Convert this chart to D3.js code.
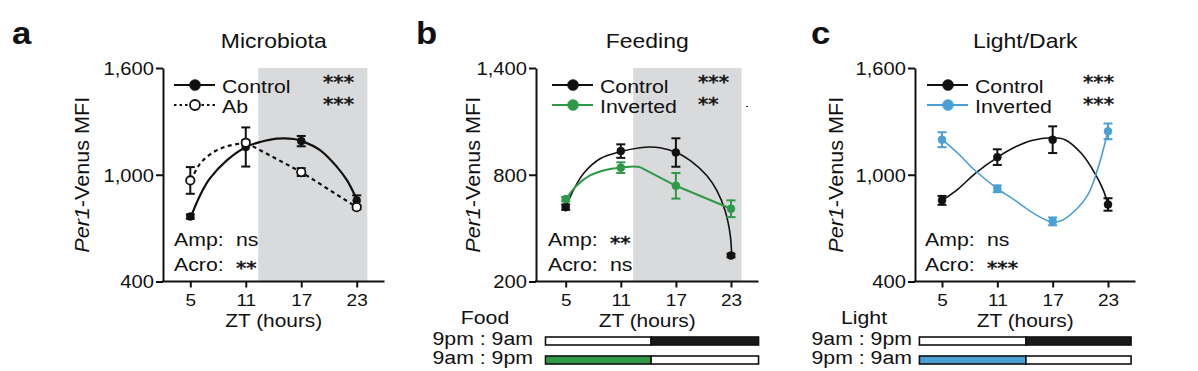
<!DOCTYPE html>
<html><head><meta charset="utf-8">
<script src="https://cdn.jsdelivr.net/npm/d3@7"></script>
<style>html,body{margin:0;padding:0;background:#fff}svg{display:block}</style>
</head><body><svg id="chart" width="1198" height="371"></svg>
<script>
// ---------------- data ----------------
const zt = [5, 11, 17, 23];
const xTickLabels = ["5", "11", "17", "23"];
const yTicksA = [400, 1000, 1600];
const yTicksB = [200, 800, 1400];
const yTicksC = [400, 1000, 1600];
const yDomainA = [400, 1600];
const yDomainB = [200, 1400];
const yDomainC = [400, 1600];
const titles = ["Microbiota", "Feeding", "Light/Dark"];
const panelLetters = ["a", "b", "c"];
const seriesA = ["Control", "Ab"];
const seriesB = ["Control", "Inverted"];
const seriesC = ["Control", "Inverted"];

// panel a: Microbiota
const ctrlA = [765, 1156, 1189, 855];
const ctrlAErr = [12, 110, 29, 29];
const abA = [968, 1180, 1015, 818];
const abAErr = [75, 14, 22, 12];
const fitCtrlA_zt = [5.08, 6.05, 7.1, 8.95, 11.04, 12.56, 14.37, 16.2, 17.08, 19.07, 20.88, 21.96, 23.05];
const fitCtrlA = [766, 884, 978, 1081, 1156, 1184, 1203, 1201, 1189, 1137, 1043, 968, 856];
const fitAbA_zt = [5.08, 6.05, 7.5, 8.95, 11.04];
const fitAbA = [968, 1062, 1127, 1160, 1180];

// panel b: Feeding
const ctrlB = [618, 933, 925, 346];
const ctrlBErr = [15, 38, 80, 10];
const invB = [663, 840, 738, 609];
const invBErr = [12, 30, 72, 47];
const fitCtrlB_zt = [5.03, 5.83, 6.92, 8.74, 11.03, 13.1, 14.18, 15.27, 17.01, 18.54, 20.36, 21.45, 22.35, 22.9, 23.08];
const fitCtrlB = [620, 712, 806, 890, 931, 952, 956, 952, 927, 881, 796, 712, 599, 468, 346];
const fitInvB_zt = [5.03, 6.2, 7.65, 9.47, 11.03, 12.37, 13.1];
const fitInvB = [663, 740, 796, 828, 840, 847, 843];

// panel c: Light/Dark
const ctrlC = [856, 1099, 1197, 833];
const ctrlCErr = [25, 44, 75, 35];
const invC = [1197, 921, 738, 1244];
const invCErr = [42, 19, 22, 44];
const fitCtrlC_zt = [5.03, 6.77, 8.58, 11.04, 12.92, 14.73, 16.9, 18.34, 20.15, 21.6, 22.5, 22.97];
const fitCtrlC = [856, 921, 1006, 1099, 1156, 1193, 1208, 1197, 1118, 1006, 912, 837];
const fitInvC_zt = [5.03, 6.77, 8.58, 11.04, 12.92, 14.73, 16.9, 17.98, 19.43, 20.87, 21.95, 22.97];
const fitInvC = [1197, 1118, 1024, 921, 856, 790, 734, 743, 799, 893, 1043, 1240];

// annotations
const starsRow1 = ["***", "***", "***"];
const starsRow2 = ["***", "**", "***"];
const ampLabels = ["ns", "**", "ns"];
const acroLabels = ["**", "ns", "***"];
const darkPhase = [12.35, 24.15];            // shaded ZT range (a, b)
const foodTitle = "Food", lightTitle = "Light";
const foodRows = ["9pm : 9am", "9am : 9pm"];
const lightRows = ["9am : 9pm", "9pm : 9am"];
const schedB = [2.8, 14.3, 26];              // bar start, switch, end (ZT)
const schedC = [2.55, 14.1, 25.5];

// ---------------- style / layout ----------------
const FONT = "'Liberation Sans', Arial, Helvetica, sans-serif";
const STARFONT = "'DejaVu Sans', sans-serif";
const SX = 1.12;
const BLACK = "#111111", GREEN = "#2e9a48", BLUE = "#4a9fd5", SHADE = "#d9dadc";
const yTop = 68, yBot = 281.5;
const layouts = [
  {axisX: 163, x5: 190.3, x23: 356.7, xEnd: 384.5, yTitleX: 89, letterX: 12, legendX: 174, starsX: 323, ampX: 174},
  {axisX: 536, x5: 565.7, x23: 731, xEnd: 758.5, yTitleX: 480, letterX: 416, legendX: 552, starsX: 698, ampX: 548},
  {axisX: 915, x5: 942, x23: 1108, xEnd: 1135.5, yTitleX: 843, letterX: 811, legendX: 927, starsX: 1083, ampX: 925}
];

const svg = d3.select("#chart");

function txt(g, str, x, y, size, opts = {}) {
  return g.append("text")
    .attr("transform", `translate(${x},${y}) scale(${opts.sx || SX},1)`)
    .attr("font-family", opts.family || FONT)
    .attr("font-size", size)
    .attr("font-weight", opts.weight || "normal")
    .attr("text-anchor", opts.anchor || "start")
    .attr("fill", opts.fill || BLACK)
    .text(str);
}
function stars(g, str, x, y) {
  return txt(g, str, x, y, 17.5, {family: STARFONT, sx: 1.18})
    .attr("stroke", BLACK).attr("stroke-width", 0.5);
}

const panels = [
  {yDomain: yDomainA, yTicks: yTicksA, series: seriesA,
   groups: [
     {mean: ctrlA, err: ctrlAErr, color: BLACK, filled: true, dashed: false, fitZ: fitCtrlA_zt, fit: fitCtrlA, linearTail: false, width: 2.2},
     {mean: abA, err: abAErr, color: BLACK, filled: false, dashed: true, fitZ: fitAbA_zt, fit: fitAbA, linearTail: true, width: 2.2}
   ], shade: true, sched: null},
  {yDomain: yDomainB, yTicks: yTicksB, series: seriesB,
   groups: [
     {mean: ctrlB, err: ctrlBErr, color: BLACK, filled: true, dashed: false, fitZ: fitCtrlB_zt, fit: fitCtrlB, linearTail: false, width: 1.6},
     {mean: invB, err: invBErr, color: GREEN, filled: true, dashed: false, fitZ: fitInvB_zt, fit: fitInvB, linearTail: true, width: 2}
   ], shade: true, sched: {title: foodTitle, rows: foodRows, s: schedB, color: GREEN}},
  {yDomain: yDomainC, yTicks: yTicksC, series: seriesC,
   groups: [
     {mean: ctrlC, err: ctrlCErr, color: BLACK, filled: true, dashed: false, fitZ: fitCtrlC_zt, fit: fitCtrlC, linearTail: false, width: 1.6},
     {mean: invC, err: invCErr, color: BLUE, filled: true, dashed: false, fitZ: fitInvC_zt, fit: fitInvC, linearTail: false, width: 1.6}
   ], shade: false, sched: {title: lightTitle, rows: lightRows, s: schedC, color: BLUE}}
];

panels.forEach((p, i) => {
  const L = layouts[i];
  const g = svg.append("g");
  const x = d3.scaleLinear().domain([zt[0], zt[3]]).range([L.x5, L.x23]);
  const y = d3.scaleLinear().domain(p.yDomain).range([yBot, yTop]);

  // shaded dark phase
  if (p.shade) {
    g.append("rect")
      .attr("x", x(darkPhase[0])).attr("y", y(p.yDomain[1]))
      .attr("width", x(darkPhase[1]) - x(darkPhase[0]))
      .attr("height", y(p.yDomain[0]) - y(p.yDomain[1]))
      .attr("fill", SHADE);
  }

  // curves
  p.groups.forEach(s => {
    const pts = s.fitZ.map((z, k) => [x(z), y(s.fit[k])]);
    const line = d3.line().curve(d3.curveCatmullRom.alpha(0.5));
    const path = g.append("path").attr("d", line(pts)).attr("fill", "none")
      .attr("stroke", s.color).attr("stroke-width", s.width);
    if (s.dashed) path.attr("stroke-dasharray", "4,3.5");
    if (s.linearTail) {
      const lastZ = s.fitZ[s.fitZ.length - 1];
      const tail = [[x(lastZ), y(s.fit[s.fit.length - 1])]];
      zt.forEach((z, k) => { if (z > lastZ + 0.5) tail.push([x(z), y(s.mean[k])]); });
      const tp = g.append("path").attr("d", d3.line()(tail)).attr("fill", "none")
        .attr("stroke", s.color).attr("stroke-width", s.width);
      if (s.dashed) tp.attr("stroke-dasharray", "4,3.5");
    }
  });

  // error bars and markers
  p.groups.forEach(s => {
    const eg = g.append("g").attr("stroke", s.color).attr("stroke-width", 2);
    zt.forEach((z, k) => {
      const cx = x(z), y1 = y(s.mean[k] + s.err[k]), y2 = y(s.mean[k] - s.err[k]);
      eg.append("line").attr("x1", cx).attr("x2", cx).attr("y1", y1).attr("y2", y2);
      eg.append("line").attr("x1", cx - 4.5).attr("x2", cx + 4.5).attr("y1", y1).attr("y2", y1);
      eg.append("line").attr("x1", cx - 4.5).attr("x2", cx + 4.5).attr("y1", y2).attr("y2", y2);
    });
    g.selectAll(null).data(zt).enter().append("circle")
      .attr("cx", d => x(d)).attr("cy", (d, k) => y(s.mean[k]))
      .attr("r", s.filled ? 4 : 4.2)
      .attr("fill", s.filled ? s.color : "#fff")
      .attr("stroke", s.color).attr("stroke-width", s.filled ? 0.5 : 1.8);
  });

  // y axis
  const yAxis = d3.axisLeft(y).tickValues(p.yTicks).tickSize(7).tickSizeOuter(0)
    .tickFormat(d3.format(","));
  const ya = g.append("g").attr("transform", `translate(${L.axisX},0)`).call(yAxis);
  ya.select(".domain").attr("stroke", BLACK).attr("stroke-width", 2);
  ya.selectAll(".tick line").attr("stroke", BLACK).attr("stroke-width", 2);
  ya.selectAll(".tick text")
    .attr("font-family", FONT).attr("font-size", 18).attr("fill", BLACK)
    .attr("x", -9 / SX).attr("dy", "0.36em")
    .attr("transform", `scale(${SX},1)`);
  ya.attr("font-family", null).attr("font-size", null);

  // x axis
  const xAxis = d3.axisBottom(x).tickValues(zt).tickSize(6).tickSizeOuter(0)
    .tickFormat((d, k) => xTickLabels[k]);
  const xa = g.append("g").attr("transform", `translate(0,${yBot})`).call(xAxis);
  xa.select(".domain").remove();
  xa.append("line").attr("x1", L.axisX - 1).attr("x2", L.xEnd).attr("y1", 0).attr("y2", 0)
    .attr("stroke", BLACK).attr("stroke-width", 2);
  xa.selectAll(".tick line").attr("stroke", BLACK).attr("stroke-width", 2);
  xa.selectAll(".tick text")
    .attr("font-family", FONT).attr("font-size", 17).attr("fill", BLACK)
    .attr("y", 25).attr("dy", 0)
    .attr("transform", `scale(${SX},1)`);
  xa.attr("font-family", null).attr("font-size", null);

  txt(g, "ZT (hours)", (L.axisX + L.xEnd) / 2, 326.5, 18, {anchor: "middle", sx: 1.16});

  // y title
  const yt = g.append("text")
    .attr("transform", `translate(${L.yTitleX},${(yTop + yBot) / 2}) rotate(-90) scale(1.08,1)`)
    .attr("font-family", FONT).attr("font-size", 20).attr("text-anchor", "middle").attr("fill", BLACK);
  yt.append("tspan").attr("font-style", "italic").text("Per1");
  yt.append("tspan").text("-Venus MFI");

  // title and letter
  txt(g, titles[i], (L.axisX + L.xEnd) / 2, 47.5, 20.5, {anchor: "middle"});
  txt(g, panelLetters[i], L.letterX, 44, 31, {weight: "bold"});

  // legend
  p.groups.forEach((s, k) => {
    const ly = 85 + k * 20;
    const ln = g.append("line").attr("x1", L.legendX).attr("x2", L.legendX + 41)
      .attr("y1", ly).attr("y2", ly).attr("stroke", s.color).attr("stroke-width", 2);
    if (s.dashed) ln.attr("stroke-dasharray", "2.5,3");
    g.append("circle").attr("cx", L.legendX + 21).attr("cy", ly).attr("r", s.filled ? 5.5 : 5)
      .attr("fill", s.filled ? s.color : "#fff").attr("stroke", s.color).attr("stroke-width", s.filled ? 0.5 : 1.8);
    txt(g, p.series[k], L.legendX + 48, ly + 7.5, 19);
  });

  // significance stars
  stars(g, starsRow1[i], L.starsX, 88);
  stars(g, starsRow2[i], L.starsX, 109.5);

  // amp / acro
  txt(g, "Amp:", L.ampX, 245.5, 19);
  txt(g, "Acro:", L.ampX, 270.5, 19);
  if (ampLabels[i] === "ns") txt(g, ampLabels[i], L.ampX + 62, 245.5, 19);
  else stars(g, ampLabels[i], L.ampX + 62, 249);
  if (acroLabels[i] === "ns") txt(g, acroLabels[i], L.ampX + 62, 270.5, 19);
  else stars(g, acroLabels[i], L.ampX + 62, 274);

  // schedule bars
  if (p.sched) {
    const sc = p.sched;
    const labelRight = L.axisX - 3;
    txt(g, sc.title, labelRight - 48, 323.5, 19, {anchor: "middle"});
    const rowsY = [337, 356];
    sc.rows.forEach((r, k) => {
      txt(g, r, labelRight, rowsY[k] + 8, 19, {anchor: "end"});
    });
    const fills = [["#ffffff", "#1a1a1a"], [sc.color, "#ffffff"]];
    rowsY.forEach((ry, k) => {
      g.append("rect").attr("x", x(sc.s[0])).attr("y", ry)
        .attr("width", x(sc.s[1]) - x(sc.s[0])).attr("height", 8)
        .attr("fill", fills[k][0]).attr("stroke", BLACK).attr("stroke-width", 1.6);
      g.append("rect").attr("x", x(sc.s[1])).attr("y", ry)
        .attr("width", x(sc.s[2]) - x(sc.s[1])).attr("height", 8)
        .attr("fill", fills[k][1]).attr("stroke", BLACK).attr("stroke-width", 1.6);
    });
  }
});

// small stray mark in panel b
svg.append("rect").attr("x", 746).attr("y", 106).attr("width", 2).attr("height", 1).attr("fill", "#333");
</script>
</body></html>
